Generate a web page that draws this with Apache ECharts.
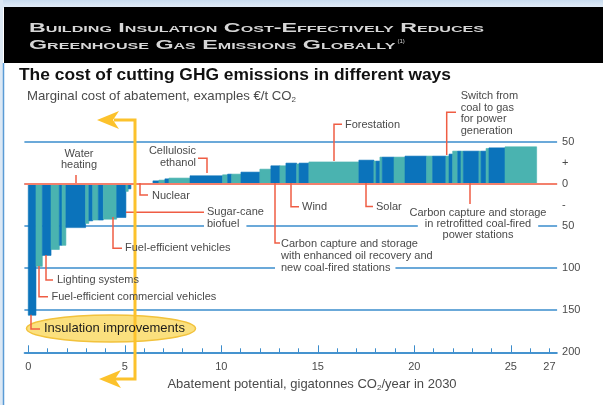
<!DOCTYPE html>
<html>
<head>
<meta charset="utf-8">
<script src="https://cdn.jsdelivr.net/npm/echarts@6/dist/echarts.min.js"></script>
<style>
  html, body { margin: 0; padding: 0; background: #fff; }
  #chart { width: 603px; height: 405px; }
</style>
</head>
<body>
<div id="chart"></div>
<script>
// abatement measures from left to right: potential (Gt CO2/year) and marginal cost (€/t CO2)
var potential = [0.40, 0.33, 0.45, 0.43, 0.14, 0.20, 1.02, 0.17, 0.20, 0.29, 0.26, 0.69, 0.48, 0.12, 0.14,
  1.14,
  0.31, 0.31, 0.21, 1.09, 1.69, 0.26, 0.21, 0.48, 0.98, 0.57, 0.47, 0.31, 0.56, 0.12, 0.51, 2.59, 0.78, 0.11,
  0.20, 0.12, 0.61, 0.57, 1.12, 0.31, 0.69, 0.16, 0.19, 0.26, 0.17, 0.12, 0.81, 0.11, 0.26, 0.15, 0.83, 1.64];
var cost = [-156, -98, -85, -78, -73, -73, -52, -47, -44, -43, -43, -42, -40, -9, -6,
  0,
  3.5, 4.4, 5.9, 6.8, 9.5, 10.7, 11.5, 11.5, 13.9, 17.4, 21.4, 21.4, 24.6, 23.5, 24.6, 26, 28.1, 27,
  27, 31.7, 31.7, 31.7, 32.9, 32.9, 32.9, 32.9, 35.3, 38.8, 38.8, 38.8, 38.8, 38.8, 38.8, 42, 42.7, 43.9];

var xTicks = [0, 1, 2, 3, 4, 5, 6, 7, 8, 9, 10, 11, 12, 13, 14, 15, 16, 17, 18, 19, 20, 21, 22, 23, 24, 25, 26, 27];
var xMajorTicks = [0, 5, 10, 15, 20, 25];
var xTickLabels = [0, 5, 10, 15, 20, 25, 27];
var yTickLabels = [50, 25, 0, -25, -50, -100, -150, -200];

var darkBlue = '#0b73bb';
var teal = '#4ab3b0';
var gridBlue = '#3a8ccc';
var zeroRed = '#f3806c';
var leaderRed = '#ef5d44';
var grey = '#4a4a4a';
var yellow = '#fcc22c';
var fontName = 'Liberation Sans, Arial, sans-serif';

// each bar spans its cumulative potential on the x axis
var bars = [];
var acc = 0;
for (var i = 0; i < potential.length; i++) {
  bars.push([acc, acc + potential[i], cost[i], i]);
  acc += potential[i];
}

function renderBar(params, api) {
  var p0 = api.coord([api.value(0), api.value(2)]);
  var p1 = api.coord([api.value(1), 0]);
  var c = api.value(3) % 2 ? teal : darkBlue;
  return {
    type: 'rect',
    shape: {
      x: p0[0],
      y: Math.min(p0[1], p1[1]),
      width: p1[0] - p0[0],
      height: Math.abs(p1[1] - p0[1])
    },
    style: { fill: c, stroke: c, lineWidth: 0.6 }
  };
}

function label(x, y, s, opt) {
  opt = opt || {};
  var al = opt.align || 'left';
  return {
    type: 'text', x: x, y: y, z: 100,
    style: {
      text: s, fill: opt.fill || grey,
      fontSize: opt.size || 11, fontFamily: fontName, fontWeight: opt.weight || 'normal',
      lineHeight: opt.lh || 12,
      align: al, verticalAlign: 'middle', textAlign: al, textVerticalAlign: 'middle',
      backgroundColor: opt.bg || null, padding: opt.pad || 0,
      rich: opt.rich
    }
  };
}

function leader(points) {
  return {
    type: 'polyline', z: 97,
    shape: { points: points },
    style: { stroke: leaderRed, lineWidth: 1.5, fill: null }
  };
}

function arrowHead(tx, ty) {
  return {
    type: 'polygon', z: 99,
    shape: { points: [[tx, ty], [tx + 22, ty - 9], [tx + 16, ty], [tx + 22, ty + 9]] },
    style: { fill: yellow }
  };
}

// header text is drawn in small caps, stretched to the band width
function measure(font, s) {
  var c = document.createElement('canvas').getContext('2d');
  c.font = font;
  return c.measureText(s).width;
}
var headFont = 'small-caps bold 13px Liberation Sans';
var head1 = 'Building Insulation Cost-Effectively Reduces';
var head2 = 'Greenhouse Gas Emissions Globally';
var headScale = 455 / measure(headFont, head1);
var head2End = 29 + measure(headFont, head2) * headScale;

function headText(y, s) {
  return {
    type: 'text', x: 29, y: y, scaleX: headScale, z: 100,
    style: {
      text: s, fill: '#d6d6d6', fontStyle: 'small-caps', fontWeight: 'bold',
      fontSize: 13, fontFamily: 'Liberation Sans',
      verticalAlign: 'middle', textVerticalAlign: 'middle'
    }
  };
}

var subRich = { s: { fontSize: 8, lineHeight: 9, verticalAlign: 'bottom', fontFamily: fontName, fill: grey } };
var white = '#ffffff';

var graphics = [
  // page frame and header band
  { type: 'rect', z: 90, shape: { x: 0, y: 0, width: 603, height: 8 },
    style: { fill: new echarts.graphic.LinearGradient(0, 0, 0, 1, [{ offset: 0, color: '#c9dcef' }, { offset: 1, color: '#e4eef8' }]) } },
  { type: 'rect', z: 90, shape: { x: 0, y: 0, width: 3, height: 405 }, style: { fill: '#dce8f4' } },
  { type: 'line', z: 91, shape: { x1: 3.5, y1: 63, x2: 3.5, y2: 405 }, style: { stroke: '#5a9bd5', lineWidth: 1.5 } },
  { type: 'rect', z: 91, shape: { x: 4, y: 7, width: 599, height: 56 }, style: { fill: '#000' } },
  headText(28, head1),
  headText(45, head2),
  label(head2End + 2, 41, '(1)', { fill: '#d6d6d6', size: 6 }),
  label(19, 75, 'The cost of cutting GHG emissions in different ways', { fill: '#111', size: 17.4, weight: 'bold', lh: 20 }),
  label(27, 96, 'Marginal cost of abatement, examples €/t CO{s|2}', { size: 13.2, lh: 15, rich: subRich }),
  label(312, 384, 'Abatement potential, gigatonnes CO{s|2}/year in 2030', { size: 13, lh: 15, align: 'center', rich: subRich }),

  // insulation highlight and yellow arrows
  { type: 'ellipse', z: 96, shape: { cx: 111, cy: 328.5, rx: 84.5, ry: 13.5 },
    style: { fill: '#fbe07e', stroke: '#f2c23c', lineWidth: 1.5 } },
  { type: 'polyline', z: 98, shape: { points: [[114, 120], [135, 120], [135, 379], [114, 379]] },
    style: { stroke: yellow, lineWidth: 3, fill: null } },
  arrowHead(97, 120),
  arrowHead(99, 379),

  // leader lines
  leader([[76, 175], [76, 183]]),
  leader([[198, 158.3], [207, 158.3], [207, 173]]),
  leader([[140, 183], [140, 195], [148, 195]]),
  leader([[126, 212.3], [204, 212.3]]),
  leader([[113, 217], [113, 248.3], [122, 248.3]]),
  leader([[46, 255], [46, 280], [53, 280]]),
  leader([[39, 266], [39, 296.7], [48, 296.7]]),
  leader([[31, 314.7], [31, 329], [40, 329]]),
  leader([[291, 183], [291, 206.7], [299, 206.7]]),
  leader([[275, 183], [275, 243], [280, 243]]),
  leader([[366, 183], [366, 206.5], [373, 206.5]]),
  leader([[470, 183], [470, 204]]),
  leader([[334, 161], [334, 124.3], [342, 124.3]]),
  leader([[446.7, 155], [446.7, 112.3], [456, 112.3]]),

  // annotation labels
  label(79, 159.5, 'Water\nheating', { align: 'center', lh: 11 }),
  label(196, 156.6, 'Cellulosic\nethanol', { align: 'right' }),
  label(152, 196, 'Nuclear'),
  label(207, 212.3, 'Sugar-cane'),
  label(204, 224.3, 'biofuel', { bg: white, pad: [0, 7, 0, 3] }),
  label(125, 248.3, 'Fuel-efficient vehicles'),
  label(57, 280, 'Lighting systems'),
  label(51.5, 297, 'Fuel-efficient commercial vehicles'),
  label(44, 328.5, 'Insulation improvements', { fill: '#1a1a1a', size: 13, lh: 15 }),
  label(302, 207, 'Wind'),
  label(281, 244, 'Carbon capture and storage'),
  label(281, 256, 'with enhanced oil recovery and'),
  label(275, 268, 'new coal-fired stations', { bg: white, pad: [0, 5, 0, 6] }),
  label(376, 206.7, 'Solar'),
  label(478, 212.7, 'Carbon capture and storage', { align: 'center' }),
  label(478, 224, 'in retrofitted coal-fired', { align: 'center', bg: white, pad: [0, 7, 0, 7] }),
  label(478, 235.3, 'power stations', { align: 'center' }),
  label(345, 124.7, 'Forestation'),
  label(460.7, 113.4, 'Switch from\ncoal to gas\nfor power\ngeneration', { lh: 11.6 })
];

var chart = echarts.init(document.getElementById('chart'));
chart.setOption({
  animation: false,
  textStyle: { fontFamily: fontName },
  grid: { left: 24.4, right: 45.9, top: 141.7, bottom: 52.7 },
  xAxis: [{
    type: 'value', min: -0.2, max: 27.4, position: 'bottom',
    axisLine: { show: true, onZero: false, lineStyle: { color: gridBlue, width: 1.5 } },
    axisTick: { show: true, inside: true, length: 4, customValues: xTicks, lineStyle: { color: gridBlue, width: 1 } },
    axisLabel: { customValues: xTickLabels, color: grey, fontSize: 11, margin: 9 },
    splitLine: { show: false }
  }, {
    type: 'value', min: -0.2, max: 27.4, position: 'bottom',
    axisLine: { show: false, onZero: false },
    axisTick: { show: true, inside: true, length: 7, customValues: xMajorTicks, lineStyle: { color: gridBlue, width: 1 } },
    axisLabel: { show: false },
    splitLine: { show: false }
  }],
  yAxis: {
    type: 'value', min: -200, max: 50, interval: 50, position: 'right',
    axisLine: { show: false, onZero: false },
    axisTick: { show: false },
    axisLabel: {
      customValues: yTickLabels, color: grey, fontSize: 11, margin: 5,
      formatter: function (v) {
        if (v === 25) return '+';
        if (v === -25) return '-';
        return String(Math.abs(v));
      }
    },
    splitLine: { show: true, lineStyle: { color: gridBlue, width: 1.5 } }
  },
  series: [{
    type: 'custom',
    renderItem: renderBar,
    data: bars,
    encode: { x: [0, 1], y: 2 },
    markLine: {
      silent: true, symbol: 'none', animation: false,
      label: { show: false },
      lineStyle: { color: zeroRed, width: 2, type: 'solid' },
      data: [{ yAxis: 0 }]
    }
  }],
  graphic: graphics
});
</script>
</body>
</html>
